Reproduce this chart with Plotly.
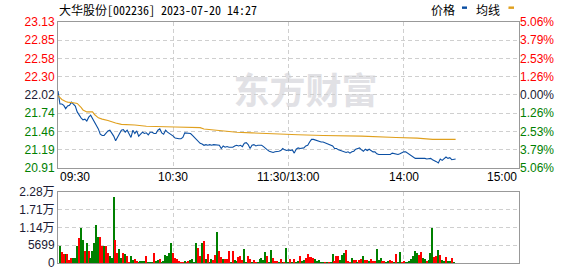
import plotly.graph_objects as go

title_text = "大华股份[002236] 2023-07-20 14:27"
prev_close = 22.02
max_pct = 5.06
left_labels = ["20.91", "21.19", "21.46", "21.74", "22.02", "22.30", "22.58", "22.85", "23.13"]
right_labels = ["5.06%", "3.79%", "2.53%", "1.26%", "0.00%", "1.26%", "2.53%", "3.79%", "5.06%"]
vol_tickvals = [0, 5699, 11398, 17097, 22796]
vol_ticktext = ["0", "5699", "1.14万", "1.71万", "2.28万"]
time_ticks = [0, 60, 120, 180, 240]
time_labels = ["09:30", "10:30", "11:30/13:00", "14:00", "15:00"]

prices = [
    22.08, 21.88, 21.88, 21.86, 21.81, 21.85, 21.86, 21.91, 21.88, 21.85,
    21.76, 21.71, 21.67, 21.64, 21.65, 21.62, 21.68, 21.71, 21.66, 21.62,
    21.57, 21.50, 21.42, 21.40, 21.40, 21.43, 21.47, 21.48, 21.44, 21.39,
    21.32, 21.38, 21.42, 21.48, 21.49, 21.45, 21.48, 21.43, 21.37, 21.48,
    21.43, 21.47, 21.39, 21.42, 21.45, 21.43, 21.44, 21.41, 21.45, 21.45,
    21.43, 21.43, 21.48, 21.50, 21.44, 21.42, 21.48, 21.45, 21.43, 21.42,
    21.39, 21.36, 21.35, 21.35, 21.35, 21.37, 21.44, 21.44, 21.43,
    21.43, 21.40, 21.37, 21.35, 21.32, 21.28, 21.27, 21.25, 21.26, 21.25,
    21.26, 21.25, 21.26, 21.26, 21.25, 21.25, 21.20, 21.24, 21.22, 21.23,
    21.22, 21.22, 21.22, 21.24, 21.25, 21.24, 21.25, 21.23, 21.28, 21.29,
    21.26, 21.20, 21.25, 21.26, 21.24, 21.25, 21.25, 21.25, 21.23, 21.20,
    21.18, 21.16, 21.15, 21.14, 21.15, 21.15, 21.16, 21.17, 21.20, 21.18,
    21.17, 21.18, 21.17, 21.18, 21.13, 21.19, 21.21, 21.20, 21.21, 21.21,
    21.24, 21.25, 21.30, 21.34, 21.34, 21.33, 21.31, 21.30, 21.30,
    21.30, 21.29, 21.28, 21.26, 21.25, 21.24, 21.20, 21.20, 21.18, 21.17,
    21.16, 21.15, 21.14, 21.15, 21.13, 21.15, 21.16, 21.19, 21.20, 21.21,
    21.18, 21.16, 21.19, 21.17, 21.19, 21.17, 21.15, 21.15, 21.12, 21.11,
    21.11, 21.11, 21.11, 21.12, 21.12, 21.11, 21.13, 21.12, 21.12, 21.11,
    21.12, 21.14, 21.15, 21.15, 21.13, 21.11, 21.08, 21.06, 21.05, 21.05,
    21.05, 21.05, 21.06, 21.05, 21.04, 21.04, 21.05, 21.03, 21.02, 21.00,
    20.98, 21.04, 21.02, 21.04, 21.07, 21.05, 21.06, 21.03, 21.04, 21.04,
]

avg_minutes = [0, 2, 4, 5, 8, 10, 12, 13, 15, 18, 19, 21, 23, 26, 30, 33, 40, 46,
               61, 68, 74, 76, 85, 93, 101, 113, 125, 138, 145, 158, 176, 187, 195, 207]
avg_prices = [22.01, 21.95, 21.92, 21.91, 21.90, 21.89, 21.83, 21.79, 21.76, 21.76,
              21.72, 21.67, 21.65, 21.63, 21.59, 21.57, 21.56, 21.54, 21.53, 21.53,
              21.52, 21.50, 21.47, 21.45, 21.44, 21.42, 21.41, 21.40, 21.40, 21.39,
              21.37, 21.36, 21.34, 21.34]

volumes = [
    5360, 3500, 2900, 2900, 2900, 1130, 1650, 1650, 1650, 5670,
    8140, 11230, 7520, 3800, 6490, 3800, 1650, 3800, 6600, 12150,
    8450, 8240, 5670, 5670, 5460, 3190, 2270, 1650, 21200, 7520,
    3190, 4430, 1650, 3190, 2900, 2270, 400, 2270, 1130, 1440,
    720, 400, 720, 720, 720, 2270, 400, 400, 400, 3190,
    720, 1030, 1340, 400, 720, 2580, 2270, 3190, 6600, 3190,
    1650, 1340, 720, 400, 400, 720,
    400, 720, 1030, 1340, 400, 6600, 4740, 2270, 6600, 7210,
    1340, 2900, 400, 1340, 1030, 2580, 10000, 3800, 1960, 1340,
    1340, 1340, 3800, 400, 3800, 1030, 720, 1960, 2270, 1030,
    4430, 400, 2270, 1340, 400, 1030, 400, 400, 1340, 1650,
    1030, 3500, 2270, 400, 4120, 1650, 720, 720, 400, 1340,
    400, 400, 4740, 400, 1340, 400, 1340, 400, 720, 2270,
    720, 1030, 1650, 2900, 1960, 1960, 1650, 1340, 720, 1030,
    400, 400, 400, 400, 400, 400, 2900, 720, 2270, 2270,
    1030, 2580, 3190, 4120, 720, 400, 1650, 1030, 1030, 400,
    1030, 1340, 2270, 1030, 1030, 720, 1340, 720, 720, 4430,
    1030, 1650, 720, 720, 400, 720, 1030, 720, 400, 2900,
    400, 3500, 400, 720, 400, 400, 720, 1340, 2270, 3800,
    3190, 2580, 3500, 1650, 1340, 720, 1030, 3190, 11230, 1960,
    2270, 4120, 2580, 1030, 720, 1960, 720, 720, 1650, 400,
]
vol_dirs = (
    "grrgrrrggg" "rggrgrgggg" "grrgrrgggr" "rggrgrrggr" "rggggrgggr" "ggrggggggr" "rrrrrg"
    "rrggggrrgr" "grggrrgrrg" "rrrgrggrrr" "ggrrgrrggg" "ggrggrrrgr" "grggrgrggr" "ggrrrrrggg"
    "ggrgrggrrr" "gggrrrgrrg" "rrgrrgrrrg" "ggrrggrrgr" "ggrrgggggg" "grrggrgggr" "rgrggrggrg"
)

RED = "#ff0000"
GREEN = "#008000"
DARK = "#1a1a33"
BLUE = "#0b4fa3"
GOLD = "#e0a01e"
GRID = "#cfcfcf"
BORDER = "#999999"
FONT = "Liberation Sans, Arial, Noto Sans CJK SC"
CJK = "Noto Sans CJK SC"
MONO_CJK = "Noto Sans Mono CJK SC, Noto Sans CJK SC"

lo = prev_close * (1 - max_pct / 100)
hi = prev_close * (1 + max_pct / 100)
n = len(left_labels)
tickvals = [lo + (hi - lo) * i / (n - 1) for i in range(n)]
mid = n // 2


def col(i):
    return GREEN if i < mid else (DARK if i == mid else RED)


left_text = [f'<span style="color:{col(i)}">{t}</span>' for i, t in enumerate(left_labels)]
right_text = [f'<span style="color:{col(i)}">{t}</span>' for i, t in enumerate(right_labels)]

price_minutes = list(range(len(prices)))
vol_minutes = list(range(1, len(volumes) + 1))
bar_colors = [RED if d == "r" else GREEN for d in vol_dirs[:len(volumes)]]

fig = go.Figure()
fig.add_trace(go.Scatter(x=price_minutes, y=prices, mode="lines",
                         line=dict(color=BLUE, width=1.1), xaxis="x", yaxis="y",
                         hoverinfo="skip"))
fig.add_trace(go.Scatter(x=avg_minutes, y=avg_prices, mode="lines",
                         line=dict(color=GOLD, width=1.1), xaxis="x", yaxis="y3",
                         hoverinfo="skip"))
fig.add_trace(go.Bar(x=vol_minutes, y=volumes, marker=dict(color=bar_colors, line=dict(width=0)),
                     width=0.7, xaxis="x2", yaxis="y2", hoverinfo="skip"))

main_dom = [0.395, 1.0]
vol_dom = [0.0, 0.2956]

axis_common = dict(showline=True, linecolor=BORDER, linewidth=1, mirror=True,
                   zeroline=False, showgrid=True, gridcolor=GRID, griddash="4px,3px",
                   gridwidth=1, ticks="", fixedrange=True)

fig.update_layout(
    width=578, height=276,
    margin=dict(l=58, r=59, t=22, b=6),
    paper_bgcolor="white", plot_bgcolor="white",
    showlegend=False,
    font=dict(family=FONT, size=12, color="#000"),
    xaxis=dict(domain=[0, 1], range=[0, 240], anchor="y", tickvals=time_ticks[1:-1],
               showticklabels=False, **axis_common),
    yaxis=dict(domain=main_dom, range=[lo, hi], tickvals=tickvals, ticktext=left_text,
               tickfont=dict(family=FONT, size=12), **axis_common),
    yaxis3=dict(overlaying="y", side="right", range=[lo, hi], tickvals=tickvals,
                ticktext=right_text, tickfont=dict(family=FONT, size=12),
                showgrid=False, zeroline=False, showline=False, ticks="", fixedrange=True),
    xaxis2=dict(domain=[0, 1], range=[0, 240], anchor="y2", tickvals=time_ticks[1:-1],
                showticklabels=False, **axis_common),
    yaxis2=dict(domain=vol_dom, range=[0, vol_tickvals[-1]], tickvals=vol_tickvals,
                ticktext=vol_ticktext, tickfont=dict(family=FONT, size=12, color=DARK),
                **axis_common),
    bargap=0,
)

# time labels under the main panel
x_anchor = ["left", "center", "center", "center", "right"]
for t, lab, xa in zip(time_ticks, time_labels, x_anchor):
    fig.add_annotation(x=t, xref="x", y=0.3548, yref="paper", text=lab, showarrow=False,
                       xanchor=xa, yanchor="middle", font=dict(family=FONT, size=12, color="#000"))

# title
fig.add_annotation(x=0, xref="paper", y=1.0524, yref="paper", text=title_text, showarrow=False,
                   xanchor="left", yanchor="middle", borderpad=0,
                   font=dict(family=MONO_CJK, size=12, color="#000"))

# legend
fig.add_annotation(x=0.8351, xref="paper", y=1.0524, yref="paper", text="价格", showarrow=False,
                   xanchor="center", yanchor="middle", font=dict(family=CJK, size=12, color="#000"))
fig.add_annotation(x=0.9338, xref="paper", y=1.0524, yref="paper", text="均线", showarrow=False,
                   xanchor="center", yanchor="middle", font=dict(family=CJK, size=12, color="#000"))
fig.add_shape(type="rect", xref="paper", yref="paper", x0=0.8764, x1=0.8872, y0=1.0544, y1=1.0645,
              fillcolor=BLUE, line=dict(width=0))
fig.add_shape(type="rect", xref="paper", yref="paper", x0=0.9772, x1=0.9892, y0=1.0544, y1=1.0645,
              fillcolor=GOLD, line=dict(width=0))

# watermark
fig.add_shape(type="rect", xref="paper", yref="paper", x0=0.377, x1=0.697, y0=0.62, y1=0.78,
              line=dict(width=0), fillcolor="rgba(0,0,0,0)", layer="below",
              label=dict(text="<b>东方财富</b>", textposition="middle center",
                         font=dict(family=CJK, size=36, color="#e1e1e5")))

fig.write_html("out.html")
